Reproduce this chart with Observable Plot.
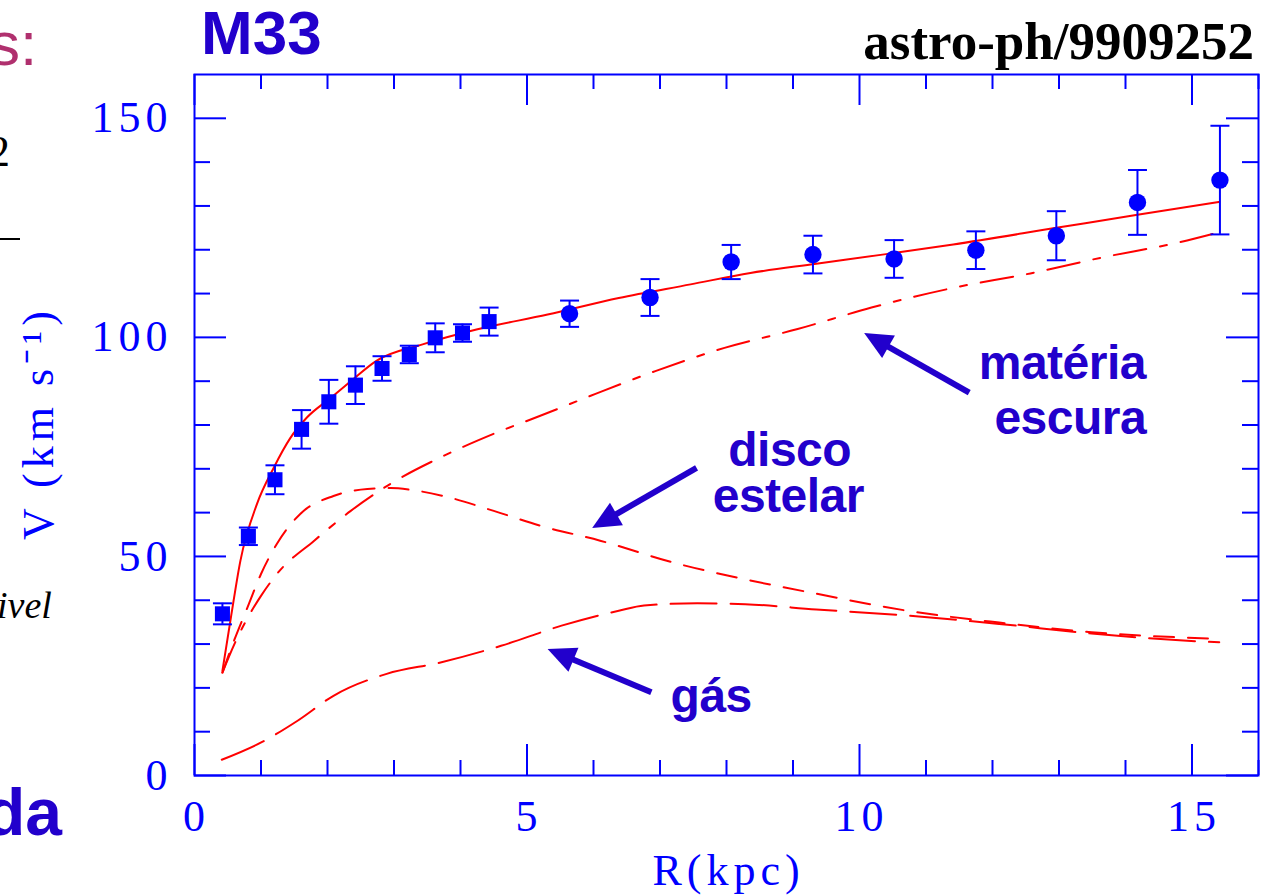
<!DOCTYPE html>
<html><head><meta charset="utf-8">
<script src="https://cdn.jsdelivr.net/npm/d3@7"></script>
<script src="https://cdn.jsdelivr.net/npm/@observablehq/plot@0.6"></script>
<style>
html,body{margin:0;padding:0;background:#fff;}
#wrap{position:relative;width:1267px;height:896px;overflow:hidden;background:#fff;}
#wrap svg{position:absolute;left:0;top:0;}
.t{position:absolute;white-space:nowrap;line-height:1;margin:0;}
</style></head><body>
<div id="wrap">
<div id="chart"></div>
<div class="t" style="left:-11px;top:8px;font:62px 'Liberation Sans',Arial,sans-serif;color:#b0306e">s:</div>
<div class="t" style="left:-12px;top:126px;font:44px 'Liberation Serif','Times New Roman',serif;color:#000">2</div>
<div style="position:absolute;left:0;top:238px;width:20px;height:2px;background:#000"></div>
<div class="t" style="left:-3px;top:583px;font:italic 38px 'Liberation Serif','Times New Roman',serif;color:#000">ivel</div>
<div class="t" style="left:-15px;top:774px;font:bold 66px 'Liberation Sans',Arial,sans-serif;color:#2200cc">da</div>
<div class="t" style="left:201px;top:-3px;font:bold 62px 'Liberation Sans',Arial,sans-serif;color:#2200cc">M33</div>
<div class="t" style="right:13px;top:11px;font:bold 53px 'Liberation Serif','Times New Roman',serif;color:#000">astro-ph/9909252</div>
</div>
<script>
// ---- data ----
const innerR = [0.42, 0.81, 1.21, 1.61, 2.02, 2.42, 2.82, 3.23, 3.62, 4.03, 4.43];
const innerV = [36.9, 54.6, 67.5, 79.0, 85.3, 89.1, 92.9, 96.1, 99.9, 101.0, 103.6];
const innerErr = [2.4, 2.0, 3.3, 4.4, 5.0, 4.3, 2.8, 2.0, 3.3, 2.0, 3.2];

const outerR = [5.64, 6.85, 8.07, 9.30, 10.52, 11.75, 12.96, 14.18, 15.42];
const outerV = [105.4, 109.1, 117.2, 118.9, 117.9, 119.9, 123.2, 130.8, 135.9];
const outerErr = [3.0, 4.2, 3.9, 4.3, 4.3, 4.3, 5.6, 7.4, 12.4];

const totalR = [0.42, 0.55, 0.69, 0.94, 1.19, 1.44, 1.69, 2.05, 2.35, 2.73, 3.43, 4.24, 5.31, 6.38, 7.46, 8.36, 9.35, 10.4, 11.41, 12.96, 14.18, 15.41];
const totalV = [23.9, 36.3, 49.0, 62.0, 70.2, 77.0, 81.7, 86.2, 90.0, 94.6, 98.4, 101.8, 105.2, 109.0, 112.1, 114.7, 116.8, 119.0, 121.2, 125.0, 128.0, 130.9];

const darkR = [0.42, 0.6, 0.8, 1.0, 1.25, 1.8, 2.35, 2.95, 3.74, 4.5, 5.2, 6.03, 6.93, 7.97, 9.07, 10.18, 11.41, 12.57, 13.67, 14.78, 15.41];
const darkV = [23.5, 30, 36, 41, 46.2, 53.6, 60.4, 66.6, 72.9, 78, 82.1, 87.1, 92.3, 97.6, 101.9, 106.8, 111.3, 114.6, 118.3, 121.6, 124.0];

const diskR = [0.42, 0.6, 0.8, 1.0, 1.24, 1.59, 2.09, 2.6, 2.95, 3.25, 3.74, 4.5, 5.2, 6.1, 7.2, 8.24, 9.35, 10.72, 12.1, 13.49, 14.87, 15.41];
const diskV = [23.5, 31, 38.5, 46, 52.9, 59.7, 63.8, 65.4, 65.6, 65.2, 63.8, 60.4, 57.0, 53.6, 48.6, 44.9, 41.5, 37.6, 34.9, 32.7, 31.5, 31.2];

const gasR = [0.41, 1.01, 1.55, 2.09, 2.89, 3.70, 4.61, 5.52, 6.38, 6.76, 7.56, 8.28, 9.35, 10.73, 12.1, 13.49, 14.87, 15.41];
const gasV = [3.6, 7.6, 12.5, 18.2, 23.2, 25.8, 29.6, 34.2, 37.6, 38.8, 39.3, 39.1, 37.9, 36.5, 34.6, 32.4, 30.8, 30.4];

const xMajor = [0, 5, 10, 15];
const xMinor = [1, 2, 3, 4, 6, 7, 8, 9, 11, 12, 13, 14, 16];
const yMajor = [0, 50, 100, 150];
const yMinor = [10, 20, 30, 40, 60, 70, 80, 90, 110, 120, 130, 140];
const xTitle = "R(kpc)";
const yTitle = "V (km s\u207B\u00B9)";

const noteText = ["matéria", "escura", "disco", "estelar", "gás"];
const noteR = [13.05, 13.17, 8.95, 8.93, 7.77];
const noteV = [90.5, 77.96, 70.66, 60.18, 14.4];

const arrowFromR = [11.65, 7.55, 6.87];
const arrowFromV = [87.4, 70.2, 19.0];
const arrowToR = [10.07, 5.98, 5.31];
const arrowToV = [101.0, 56.5, 28.9];

// ---- layout / style ----
const W = 1267, H = 896, mL = 194, mR = 9, mT = 74, mB = 121;
const plotW = W - mL - mR, plotH = H - mT - mB;
const xDomain = [0, 16], yDomain = [0, 160];
const kx = plotW / (xDomain[1] - xDomain[0]), ky = plotH / (yDomain[1] - yDomain[0]);
const blue = "#0000ff", red = "#ff0000", ink = "#2200cc";
const serif = "'Liberation Serif','Times New Roman',serif";
const headLen = 28, headHalf = 13;

// ---- build tables ----
const zipPts = (R, V, E) => R.map((r, i) => ({r, v: V[i], e: E ? E[i] : 0}));
const inner = zipPts(innerR, innerV, innerErr);
const outer = zipPts(outerR, outerV, outerErr);
const allPts = inner.concat(outer);
const total = zipPts(totalR, totalV);
const dark = zipPts(darkR, darkV);
const disk = zipPts(diskR, diskV);
const gas = zipPts(gasR, gasV);
const notes = noteText.map((t, i) => ({t, r: noteR[i], v: noteV[i]}));
const arrows = arrowFromR.map((x1, i) => {
  const y1 = arrowFromV[i], x2 = arrowToR[i], y2 = arrowToV[i];
  const px = (x2 - x1) * kx, py = -(y2 - y1) * ky;
  const len = Math.hypot(px, py), ux = px / len, uy = py / len;
  const back = headLen * 0.8;
  return {x1, y1, x2, y2, ux, uy, sx2: x2 - ux * back / kx, sy2: y2 + uy * back / ky};
});
const headSymbol = a => ({draw(ctx) {
  ctx.moveTo(0, 0);
  ctx.lineTo(-a.ux * headLen - a.uy * headHalf, -a.uy * headLen + a.ux * headHalf);
  ctx.lineTo(-a.ux * headLen + a.uy * headHalf, -a.uy * headLen - a.ux * headHalf);
  ctx.closePath();
}});
const capSymbol = {draw(ctx, size) { const w = Math.sqrt(size / Math.PI); ctx.moveTo(-w, 0); ctx.lineTo(w, 0); }};

const chart = Plot.plot({
  width: W, height: H,
  marginLeft: mL, marginRight: mR, marginTop: mT, marginBottom: mB,
  x: {domain: xDomain, axis: null},
  y: {domain: yDomain, axis: null},
  style: {background: "transparent", overflow: "visible"},
  marks: [
    // ticks (inward)
    Plot.ruleX(xMajor, {x: d => d, stroke: blue, strokeWidth: 2, insetTop: plotH - 31}),
    Plot.ruleX(xMinor, {x: d => d, stroke: blue, strokeWidth: 2, insetTop: plotH - 15}),
    Plot.ruleX(xMajor, {x: d => d, stroke: blue, strokeWidth: 2, insetBottom: plotH - 31}),
    Plot.ruleX(xMinor, {x: d => d, stroke: blue, strokeWidth: 2, insetBottom: plotH - 15}),
    Plot.ruleY(yMajor, {y: d => d, stroke: blue, strokeWidth: 2, insetRight: plotW - 32}),
    Plot.ruleY(yMinor, {y: d => d, stroke: blue, strokeWidth: 2, insetRight: plotW - 16}),
    Plot.ruleY(yMajor, {y: d => d, stroke: blue, strokeWidth: 2, insetLeft: plotW - 32}),
    Plot.ruleY(yMinor, {y: d => d, stroke: blue, strokeWidth: 2, insetLeft: plotW - 16}),
    Plot.frame({stroke: blue, strokeWidth: 2}),
    // tick labels
    Plot.text(xMajor, {x: d => d, y: 0, dy: 41, dx: 2, text: d => String(d), fontFamily: serif, fontSize: 44, fill: blue, lineAnchor: "middle"}),
    Plot.text(yMajor, {x: 0, y: d => d, dx: -22, text: d => String(d), fontFamily: serif, fontSize: 44, fill: blue, textAnchor: "end", lineAnchor: "middle"}),
    // axis titles
    Plot.text([xTitle], {frameAnchor: "bottom", dy: 109, dx: 2, text: d => d, fontFamily: serif, fontSize: 44, fill: blue, lineAnchor: "bottom", textAnchor: "middle"}),
    Plot.text([yTitle], {frameAnchor: "left", dx: -142, dy: -2, rotate: -90, text: d => d, fontFamily: serif, fontSize: 44, fill: blue, lineAnchor: "bottom", textAnchor: "middle"}),
    // model curves
    Plot.line(gas, {x: "r", y: "v", stroke: red, strokeWidth: 2, strokeDasharray: "46,14", curve: "monotone-x"}),
    Plot.line(disk, {x: "r", y: "v", stroke: red, strokeWidth: 2, strokeDasharray: "20,14", curve: "monotone-x"}),
    Plot.line(dark, {x: "r", y: "v", stroke: red, strokeWidth: 2, strokeDasharray: "33,14,7,14", curve: "monotone-x"}),
    Plot.line(total, {x: "r", y: "v", stroke: red, strokeWidth: 2, curve: "monotone-x"}),
    // error bars
    Plot.ruleX(allPts, {x: "r", y1: d => d.v - d.e, y2: d => d.v + d.e, stroke: blue, strokeWidth: 2}),
    Plot.dot(allPts, {x: "r", y: d => d.v + d.e, symbol: capSymbol, r: 9.5, stroke: blue, strokeWidth: 2, fill: "none"}),
    Plot.dot(allPts, {x: "r", y: d => d.v - d.e, symbol: capSymbol, r: 9.5, stroke: blue, strokeWidth: 2, fill: "none"}),
    // data points
    Plot.dot(inner, {x: "r", y: "v", symbol: "square", r: 8.5, fill: blue, stroke: null}),
    Plot.dot(outer, {x: "r", y: "v", symbol: "circle", r: 8.7, fill: blue, stroke: null}),
    // annotations
    Plot.link(arrows, {x1: "x1", y1: "y1", x2: "sx2", y2: "sy2", stroke: ink, strokeWidth: 6}),
    ...arrows.map(a => Plot.dot([a], {x: "x2", y: "y2", symbol: headSymbol(a), r: 10, fill: ink, stroke: null})),
    Plot.text(notes, {x: "r", y: "v", text: "t", fontFamily: "'Liberation Sans',Arial,sans-serif", fontWeight: "bold", fontSize: 48, fill: ink, lineAnchor: "bottom", textAnchor: "middle"})
  ]
});
chart.querySelectorAll('g[aria-label="text"][font-weight="bold"]').forEach(g => g.setAttribute("letter-spacing", "-0.5"));
chart.querySelectorAll('g[aria-label="text"]:not([font-weight])').forEach(g => g.setAttribute("letter-spacing", "5"));
document.getElementById("chart").appendChild(chart);
</script>
</body></html>
